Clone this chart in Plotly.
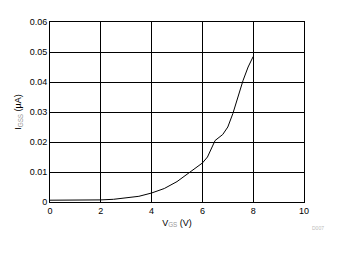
import plotly.graph_objects as go

vgs = [0, 1, 2, 2.5, 3, 3.5, 4, 4.5, 5, 5.5, 6, 6.2, 6.5, 6.8, 7, 7.2, 7.4, 7.6, 7.8, 8]
igss = [0.0006, 0.0006, 0.0007, 0.0009, 0.0013, 0.0019, 0.0030, 0.0045, 0.0068, 0.0100,
        0.0130, 0.0150, 0.0205, 0.0225, 0.0250, 0.0295, 0.0350, 0.0405, 0.0450, 0.0485]

fig = go.Figure()
fig.add_trace(go.Scatter(x=vgs, y=igss, mode="lines", line=dict(color="black", width=1),
                         showlegend=False, hoverinfo="skip"))

font = dict(family="Liberation Sans, Arial, sans-serif", size=9, color="black")
fig.update_layout(
    width=337, height=254,
    margin=dict(l=50, r=33, t=22, b=52),
    paper_bgcolor="white", plot_bgcolor="white",
    font=font,
    xaxis=dict(range=[0, 10], tick0=0, dtick=2, showgrid=True, gridcolor="black", gridwidth=1,
               showline=True, linecolor="black", linewidth=1, mirror=True, zeroline=False,
               ticks="", tickfont=font,
               title=dict(text="V<sub><span style='color:#999'>GS</span></sub> (V)", font=font, standoff=4)),
    yaxis=dict(range=[0, 0.06], tick0=0, dtick=0.01, tickformat="~g", showgrid=True, gridcolor="black",
               gridwidth=1, showline=True, linecolor="black", linewidth=1, mirror=True, zeroline=False,
               ticks="", tickfont=font,
               title=dict(text="I<sub><span style='color:#999'>GSS</span></sub> (µA)", font=font, standoff=6)),
)
fig.add_annotation(text="D007", x=1.055, y=-0.17, xref="paper", yref="paper", xanchor="center",
                   showarrow=False, font=dict(family="Liberation Sans, Arial, sans-serif", size=5, color="#bbb"))
fig.write_html("out.html")
